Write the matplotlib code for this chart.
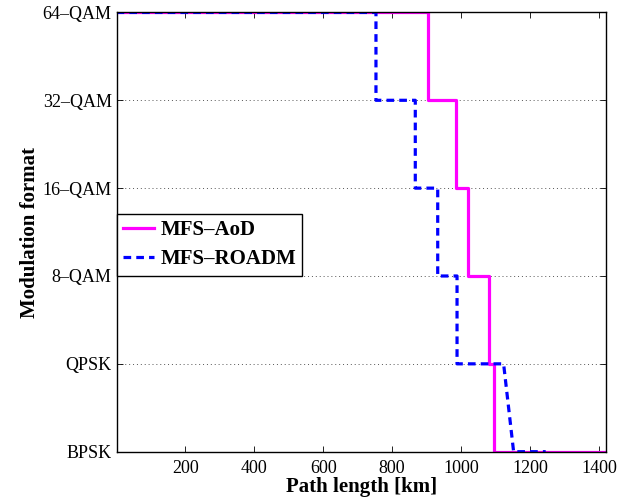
import numpy as np
import matplotlib
matplotlib.use("Agg")
import matplotlib.pyplot as plt

plt.rcParams['font.family'] = ['Liberation Serif', 'DejaVu Serif']

# modulation formats, bottom to top
formats = ['BPSK', 'QPSK', '8\u2013QAM', '16\u2013QAM', '32\u2013QAM', '64\u2013QAM']

# MFS-AoD: vertices of the step curve (path length km, format index)
aod_km = [1, 905, 905, 986, 986, 1019, 1019, 1082, 1082, 1095, 1095, 1420]
aod_fmt = [5, 5, 4, 4, 3, 3, 2, 2, 1, 1, 0, 0]

# MFS-ROADM
roadm_km = [1, 753, 753, 867, 867, 932, 932, 988, 988, 1123, 1152, 1245]
roadm_fmt = [5, 5, 4, 4, 3, 3, 2, 2, 1, 1, 0, 0]

fig = plt.figure(figsize=(6.3, 4.98), dpi=100)
ax = fig.add_axes([0.185, 0.093, 0.777, 0.882])

ax.plot(aod_km, aod_fmt, color='#ff00ff', lw=2.3, label='MFS\u2013AoD')
ax.plot(roadm_km, roadm_fmt, color='#0000ff', lw=2.3, ls=(0, (2.4, 1.6)),
        label='MFS\u2013ROADM')

ax.set_xlim(1, 1420)
ax.set_ylim(0, 5)
ax.set_xticks([200, 400, 600, 800, 1000, 1200, 1400])
ax.set_yticks(range(len(formats)))
ax.set_yticklabels(formats)
ax.tick_params(direction='in', top=True, right=True, labelsize=13,
               length=4, width=0.6)
ax.tick_params(axis='x', pad=6)
ax.yaxis.grid(True, ls=(0, (1, 3)), color='#555555', lw=0.7)
for s in ax.spines.values():
    s.set_linewidth(1.0)

ax.set_xlabel('Path length [km]', fontsize=15, fontweight='bold', labelpad=0)
ax.set_ylabel('Modulation format', fontsize=15, fontweight='bold', labelpad=2)

leg = ax.legend(loc='lower left', bbox_to_anchor=(0.0, 0.401),
                prop={'weight': 'bold', 'size': 15}, fancybox=False,
                edgecolor='black', framealpha=1, handlelength=1.5,
                borderaxespad=0, handletextpad=0.3, labelspacing=0.45,
                borderpad=0.3)
leg.get_frame().set_linewidth(1.0)

fig.savefig('out.png', dpi=100)
